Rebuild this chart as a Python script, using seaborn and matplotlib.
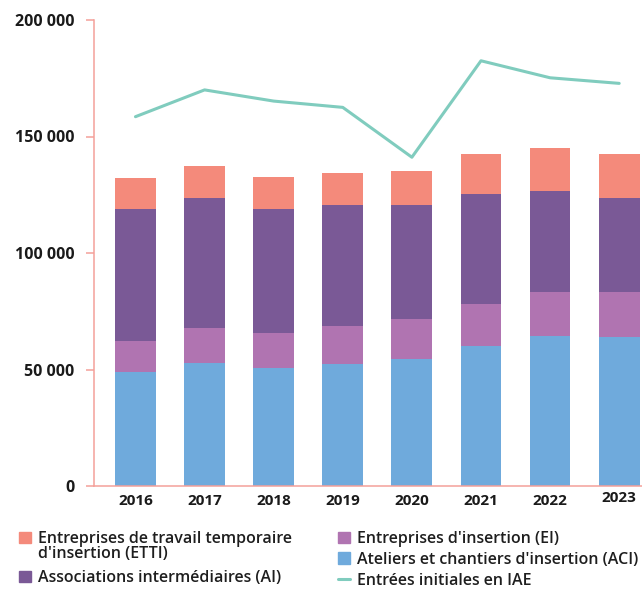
import numpy as np
import pandas as pd
import matplotlib.pyplot as plt
import seaborn as sns
from matplotlib.ticker import FuncFormatter
from matplotlib.patches import Patch
from matplotlib.lines import Line2D
from matplotlib.transforms import ScaledTranslation

# donnees
annees = ["2016", "2017", "2018", "2019", "2020", "2021", "2022", "2023"]
aci = [48900, 52800, 50800, 52400, 54500, 60100, 64400, 63900]
ei = [13300, 15000, 14900, 16300, 17200, 18000, 18900, 19400]
ai = [56700, 55800, 53200, 51900, 48900, 47200, 43300, 40300]
etti = [13300, 13700, 13700, 13700, 14600, 17200, 18500, 18900]
entrees = [158500, 170000, 165200, 162500, 141100, 182500, 175200, 172800]

col_etti = "#F48A7B"
col_ai = "#7A5996"
col_ei = "#B074B1"
col_aci = "#6FAADC"
col_line = "#80CCBE"
col_axe = "#F4A09A"

sns.set_style("white")
plt.rcParams['font.family'] = ['Open Sans', 'DejaVu Sans']

df = pd.DataFrame({"annee": annees, "aci": aci, "ei": ei, "ai": ai, "etti": etti})
# cumuls pour empiler les barres
df["c_ei"] = df["aci"] + df["ei"]
df["c_ai"] = df["c_ei"] + df["ai"]
df["c_etti"] = df["c_ai"] + df["etti"]

fig = plt.figure(figsize=(6.42, 5.89), dpi=100)
ax = fig.add_axes([94 / 642, 103 / 589, 548 / 642, 466 / 589])

for col, c in [("c_etti", col_etti), ("c_ai", col_ai), ("c_ei", col_ei), ("aci", col_aci)]:
    sns.barplot(data=df, x="annee", y=col, color=c, width=0.59, saturation=1,
                errorbar=None, linewidth=0, edgecolor="none", ax=ax)

sns.lineplot(x=np.arange(len(annees)), y=entrees, color=col_line, linewidth=2.2, ax=ax)

ax.set_xlim(-0.6, 7.33)
ax.set_ylim(0, 200000)
ax.set_yticks([0, 50000, 100000, 150000, 200000])
ax.yaxis.set_major_formatter(FuncFormatter(lambda v, p: f"{int(v):,}".replace(",", " ")))
ax.set_xlabel("")
ax.set_ylabel("")

for s in ["top", "right"]:
    ax.spines[s].set_visible(False)
for s in ["left", "bottom"]:
    ax.spines[s].set_color(col_axe)
    ax.spines[s].set_linewidth(1.1)

ax.tick_params(axis="y", length=6, width=1.1, color=col_axe, pad=8, left=True,
               labelsize=11.5, labelcolor="#1a1a1a")
ax.tick_params(axis="x", length=0, pad=6, labelsize=11, labelcolor="#1a1a1a")
for lab in ax.get_xticklabels() + ax.get_yticklabels():
    lab.set_fontweight("bold")
# le libelle 2023 est un peu plus haut sur l'original
lab23 = ax.get_xticklabels()[-1]
lab23.set_transform(lab23.get_transform() + ScaledTranslation(0, 3 / 100, fig.dpi_scale_trans))

# legende en deux colonnes
leg_kw = dict(frameon=False, fontsize=11.5, handlelength=0.75, handleheight=0.75,
              handletextpad=0.45, borderpad=0, borderaxespad=0, loc="upper left")
h1 = [Patch(color=col_etti), Patch(color=col_ai)]
l1 = ["Entreprises de travail temporaire", "Associations intermédiaires (AI)"]
h2 = [Patch(color=col_ei), Patch(color=col_aci), Line2D([], [], color=col_line, linewidth=2.2)]
l2 = ["Entreprises d'insertion (EI)", "Ateliers et chantiers d'insertion (ACI)",
      "Entrées initiales en IAE"]
leg1 = fig.legend(h1, l1, bbox_to_anchor=(19 / 642, 1 - 531 / 589), labelspacing=1.45, **leg_kw)
leg2 = fig.legend(h2, l2, bbox_to_anchor=(338 / 642, 1 - 531 / 589), labelspacing=0.3, **leg_kw)
for leg in (leg1, leg2):
    for t in leg.get_texts():
        t.set_fontweight("semibold")
        t.set_color("#1e1e1e")
# deuxieme ligne du libelle ETTI
fig.text(38 / 642, 1 - 554 / 589, "d'insertion (ETTI)", fontsize=11.5, fontweight="semibold",
         color="#1e1e1e", va="center", ha="left")

fig.savefig("out.png", dpi=100)
